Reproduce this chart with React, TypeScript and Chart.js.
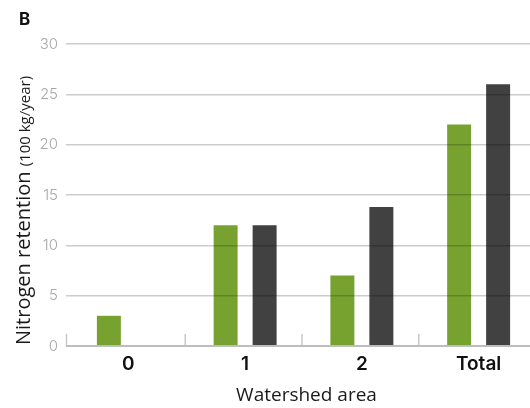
import React, { useEffect, useRef } from "react";
import { Chart, registerables } from "chart.js";

Chart.register(...registerables);

const categories = ["0", "1", "2", "Total"];
const greenValues = [3, 12, 7, 22];
const darkValues = [0, 12, 13.8, 26];
const yTicks = [0, 5, 10, 15, 20, 25, 30];

const FONT = "Inter, 'Noto Sans', sans-serif";
const TITLE_FONT = "'Open Sans', 'Noto Sans', sans-serif";

const decorPlugin = {
  id: "decor",
  afterDraw(chart: any) {
    const { ctx, chartArea, scales } = chart;
    const x = scales.x;
    const y0 = scales.y.getPixelForValue(0);
    ctx.save();
    // boundary ticks (upward)
    ctx.strokeStyle = "#c8c8c8";
    ctx.lineWidth = 1.5;
    const n = categories.length;
    const half = (x.getPixelForValue(1) - x.getPixelForValue(0)) / 2;
    for (let i = 0; i < n; i++) {
      const bx = x.getPixelForValue(i) - half - (i === 0 ? 3.5 : 1.5);
      ctx.beginPath();
      ctx.moveTo(bx, y0);
      ctx.lineTo(bx, y0 - 12);
      ctx.stroke();
    }
    // axis line
    ctx.strokeStyle = "#bdbdbd";
    ctx.lineWidth = 2;
    ctx.beginPath();
    ctx.moveTo(chartArea.left - 4, y0);
    ctx.lineTo(chart.width, y0);
    ctx.stroke();

    // panel letter
    ctx.fillStyle = "#111";
    ctx.font = `bold 17px ${FONT}`;
    ctx.textAlign = "left";
    ctx.textBaseline = "alphabetic";
    ctx.fillText("B", 19, 25);

    // x title
    ctx.fillStyle = "#1a1a1a";
    ctx.font = `400 19px ${TITLE_FONT}`;
    ctx.textAlign = "center";
    ctx.fillText("Watershed area", (chartArea.left + chartArea.right) / 2 + 3, 401);

    // y title with two sizes
    ctx.textAlign = "left";
    ctx.translate(29.5, chartArea.bottom - 1);
    ctx.rotate(-Math.PI / 2);
    ctx.font = `400 20px ${TITLE_FONT}`;
    const main = "Nitrogen retention";
    ctx.fillText(main, 0, 0);
    const w = ctx.measureText(main + " ").width;
    ctx.font = `400 15px ${TITLE_FONT}`;
    ctx.fillText("(100 kg/year)", w, 0);
    ctx.restore();
  },
};

export default function App() {
  const ref = useRef<HTMLCanvasElement>(null);
  useEffect(() => {
    if (!ref.current) return;
    const chart = new Chart(ref.current, {
      type: "bar",
      data: {
        labels: categories,
        datasets: [
          {
            data: greenValues,
            backgroundColor: "#78a22f",
            categoryPercentage: 0.668,
            barPercentage: 0.615,
          },
          {
            data: darkValues,
            backgroundColor: "#414141",
            categoryPercentage: 0.668,
            barPercentage: 0.615,
          },
        ],
      },
      options: {
        animation: false,
        responsive: false,
        layout: { padding: { left: 0, top: 44, right: 8, bottom: 0 } },
        plugins: { legend: { display: false }, tooltip: { enabled: false } },
        scales: {
          x: {
            grid: { display: false, drawTicks: false },
            border: { display: false },
            ticks: {
              padding: 7,
              color: "#111",
              font: { family: FONT, size: 19, weight: "600" },
            },
            afterFit: (s: any) => {
              s.height = 62;
            },
          },
          y: {
            min: 0,
            max: 30,
            afterBuildTicks: (s: any) => {
              s.ticks = yTicks.map((v) => ({ value: v }));
            },
            grid: {
              color: "rgba(0,0,0,0.2)",
              lineWidth: 1.5,
              tickLength: 4,
              z: 1,
            },
            border: { display: false },
            ticks: {
              padding: 8,
              color: "#a8a8a8",
              font: { family: FONT, size: 15, weight: "300" },
            },
            afterFit: (s: any) => {
              s.width = 70;
            },
          },
        },
      },
      plugins: [decorPlugin],
    });
    return () => chart.destroy();
  }, []);
  return (
    <div
      style={{
        position: "absolute",
        left: 0,
        top: 0,
        width: 530,
        height: 408,
        overflow: "hidden",
        background: "#fff",
      }}
    >
      <canvas ref={ref} width={545} height={408} style={{ display: "block" }} />
    </div>
  );
}
